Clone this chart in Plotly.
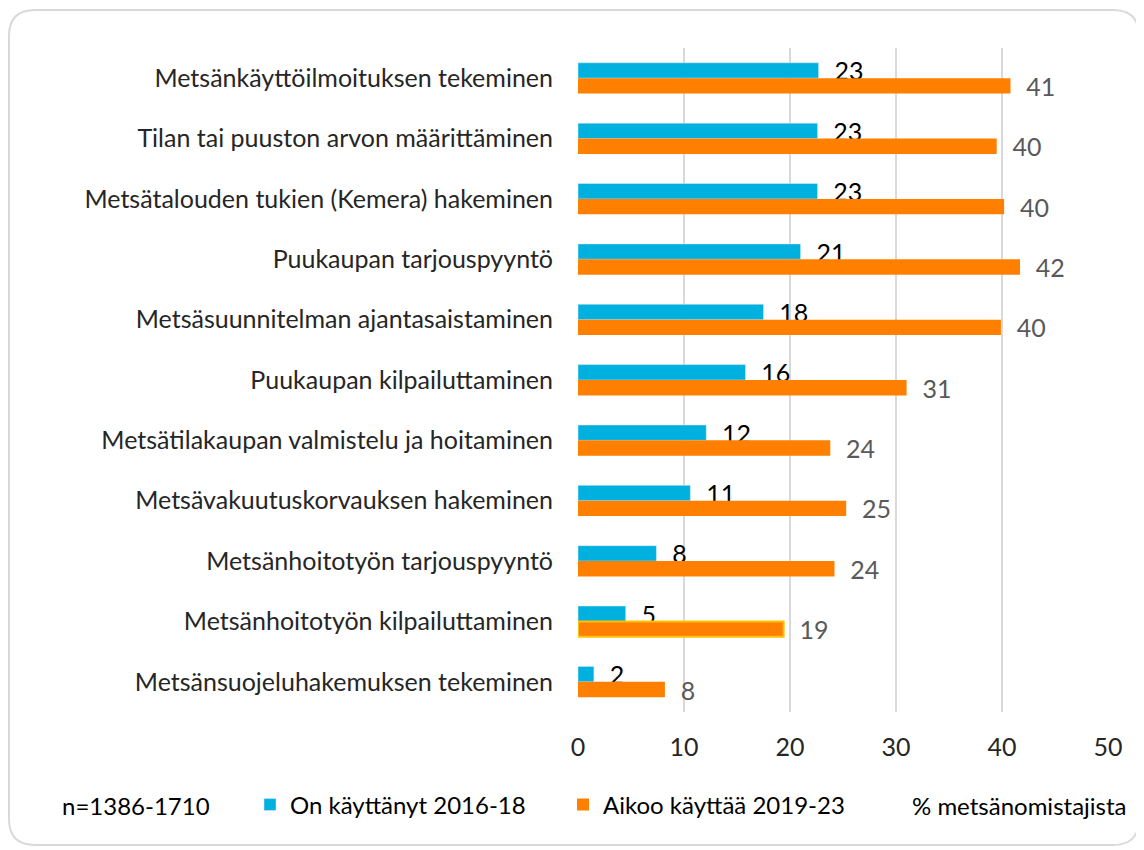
import plotly.graph_objects as go

categories = [
    "Metsänkäyttöilmoituksen tekeminen",
    "Tilan tai puuston arvon määrittäminen",
    "Metsätalouden tukien (Kemera) hakeminen",
    "Puukaupan tarjouspyyntö",
    "Metsäsuunnitelman ajantasaistaminen",
    "Puukaupan kilpailuttaminen",
    "Metsätilakaupan valmistelu ja hoitaminen",
    "Metsävakuutuskorvauksen hakeminen",
    "Metsänhoitotyön tarjouspyyntö",
    "Metsänhoitotyön kilpailuttaminen",
    "Metsänsuojeluhakemuksen tekeminen",
]
used_2016_18 = [22.7, 22.6, 22.6, 21.0, 17.5, 15.8, 12.1, 10.6, 7.4, 4.5, 1.5]
used_labels = [23, 23, 23, 21, 18, 16, 12, 11, 8, 5, 2]
plan_2019_23 = [40.8, 39.5, 40.2, 41.7, 39.9, 31.0, 23.8, 25.3, 24.2, 19.4, 8.2]
plan_labels = [41, 40, 40, 42, 40, 31, 24, 25, 24, 19, 8]
x_ticks = [0, 10, 20, 30, 40, 50]

FONT = "Lato"
CYAN = "#00B0DF"
ORANGE = "#FF8000"

# page body has an 8px margin; figure coordinates = reference px - 8
W, H = 1136, 842
x0px, x1px, y0px, y1px = 570, 1100, 40, 704

fig = go.Figure()
fig.add_trace(go.Bar(
    y=categories, x=used_2016_18, orientation="h",
    name="On käyttänyt 2016-18",
    marker=dict(color=CYAN),
    text=["  " + str(v) for v in used_labels],
    textposition="outside", constraintext="none", cliponaxis=False,
    textfont=dict(family=FONT, size=25, color="#000000"),
    legend="legend",
))
line_w = [0] * len(categories)
line_w[9] = 2
fig.add_trace(go.Bar(
    y=categories, x=plan_2019_23, orientation="h",
    name="Aikoo käyttää 2019-23",
    marker=dict(color=ORANGE, line=dict(color="#FFC000", width=line_w)),
    text=["  " + str(v) for v in plan_labels],
    textposition="outside", constraintext="none", cliponaxis=False,
    textfont=dict(family=FONT, size=25, color="#595959"),
    legend="legend2",
))

r = 26
L, R = 1 - x0px, 1131 - x0px
B, T = -(837 - y1px), y1px - 2
path = (f"M {L+r},{B} L {R-r},{B} Q {R},{B} {R},{B+r} L {R},{T-r} Q {R},{T} {R-r},{T} "
        f"L {L+r},{T} Q {L},{T} {L},{T-r} L {L},{B+r} Q {L},{B} {L+r},{B} Z")

leg_y = -(797 - y1px) / (y1px - y0px)


def px_x(px):
    return (px - x0px) / (x1px - x0px)


leg_common = dict(orientation="h", xanchor="left", y=leg_y, yanchor="middle",
                  font=dict(size=24, color="#000000"), itemwidth=30,
                  bgcolor="rgba(0,0,0,0)")

fig.update_layout(
    width=W, height=H,
    margin=dict(l=x0px, r=W - x1px, t=y0px, b=H - y1px),
    paper_bgcolor="white", plot_bgcolor="white",
    barmode="group", bargap=0.49, bargroupgap=0,
    font=dict(family=FONT, size=25, color="#262626"),
    xaxis=dict(range=[0, 50], tickvals=x_ticks, showgrid=True, gridcolor="#D9D9D9",
               gridwidth=2, zeroline=False, showline=False, ticks="",
               tickfont=dict(size=25, color="#262626"), ticklabelstandoff=18),
    yaxis=dict(autorange="reversed", showgrid=False, zeroline=False, showline=False,
               ticks="", tickfont=dict(size=25, color="#262626"), ticklabelstandoff=24),
    showlegend=True,
    legend=dict(x=px_x(242), **leg_common),
    legend2=dict(x=px_x(555), **leg_common),
    shapes=[dict(type="path", xref="paper", yref="paper", xsizemode="pixel", ysizemode="pixel",
                 xanchor=0, yanchor=0, path=path, line=dict(color="#D9D9D9", width=2),
                 layer="below")],
    annotations=[
        dict(text="n=1386-1710", xref="paper", yref="paper",
             x=px_x(52), xanchor="left", y=leg_y, yanchor="middle",
             showarrow=False, font=dict(size=24, color="#000000")),
        dict(text="% metsänomistajista", xref="paper", yref="paper",
             x=px_x(902), xanchor="left", y=leg_y, yanchor="middle",
             showarrow=False, font=dict(size=24, color="#000000")),
    ],
)

fig.write_html("out.html")
